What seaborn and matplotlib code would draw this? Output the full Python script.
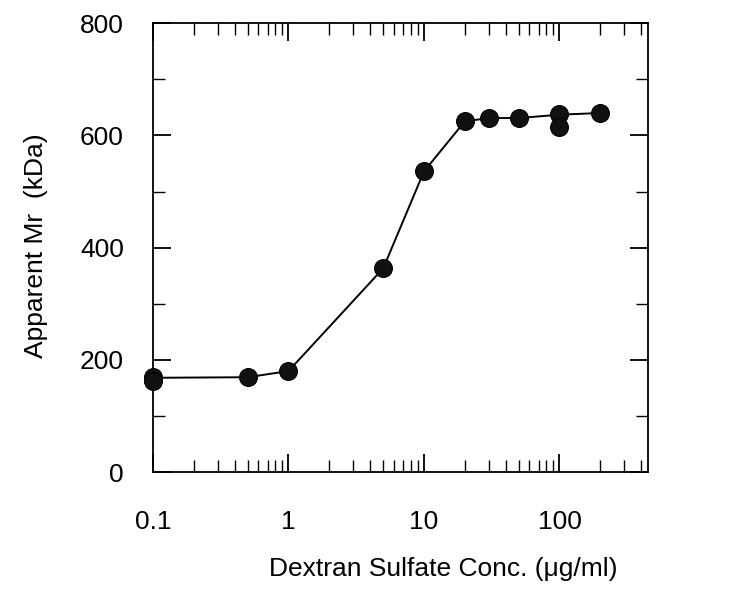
import pandas as pd
import matplotlib
matplotlib.use('Agg')
import matplotlib.pyplot as plt
from matplotlib.ticker import LogLocator, MultipleLocator, FixedLocator, FixedFormatter, NullFormatter
import seaborn as sns

# measured points
conc = [0.1, 0.1, 0.5, 1, 5, 10, 20, 30, 50, 100, 100, 200]
mr = [169, 162, 169, 180, 363, 536, 625, 631, 631, 638, 615, 640]

# connecting line
line_conc = [0.1, 0.5, 1, 5, 10, 20, 30, 50, 100, 200]
line_mr = [168, 169, 180, 363, 536, 625, 631, 631, 637, 640]

x_ticks = [0.1, 1, 10, 100]
x_labels = ['0.1', '1', '10', '100']

sns.set_style('ticks')
plt.rcParams['font.family'] = ['Liberation Sans', 'DejaVu Sans']
plt.rcParams['text.color'] = 'black'
plt.rcParams['axes.labelcolor'] = 'black'
plt.rcParams['xtick.color'] = 'black'
plt.rcParams['ytick.color'] = 'black'

df = pd.DataFrame({'conc': conc, 'mr': mr})
df_line = pd.DataFrame({'conc': line_conc, 'mr': line_mr})

fig = plt.figure(figsize=(7.5, 5.96), dpi=100)
ax = fig.add_axes([0.204, 0.208, 0.66, 0.753])

sns.lineplot(x='conc', y='mr', data=df_line, color='black', linewidth=1.4, ax=ax, zorder=2)
sns.scatterplot(x='conc', y='mr', data=df, color='#111111', s=165, edgecolor='black',
                linewidth=0.8, ax=ax, zorder=3, clip_on=False)

ax.set_xscale('log')
ax.set_xlim(0.1, 450)
ax.set_ylim(0, 800)
ax.xaxis.set_major_locator(FixedLocator(x_ticks))
ax.xaxis.set_major_formatter(FixedFormatter(x_labels))
ax.xaxis.set_minor_locator(LogLocator(base=10, subs=range(2, 10), numticks=20))
ax.xaxis.set_minor_formatter(NullFormatter())
ax.yaxis.set_major_locator(MultipleLocator(200))
ax.yaxis.set_minor_locator(MultipleLocator(100))

ax.tick_params(which='both', direction='in', top=True, right=True, colors='black')
ax.tick_params(which='major', length=13, width=1.3, labelsize=19)
ax.tick_params(which='minor', length=8.5, width=1.0)
ax.tick_params(axis='x', which='major', pad=27)
ax.tick_params(axis='y', which='major', pad=21)
for s in ax.spines.values():
    s.set_linewidth(1.3)
    s.set_color('black')

ax.set_xlabel('Dextran Sulfate Conc. (μg/ml)', fontsize=19)
ax.set_ylabel('Apparent Mr  (kDa)', fontsize=19)
ax.xaxis.set_label_coords(0.587, -0.19)
ax.yaxis.set_label_coords(-0.213, 0.505)

fig.savefig('out.png', dpi=100)
